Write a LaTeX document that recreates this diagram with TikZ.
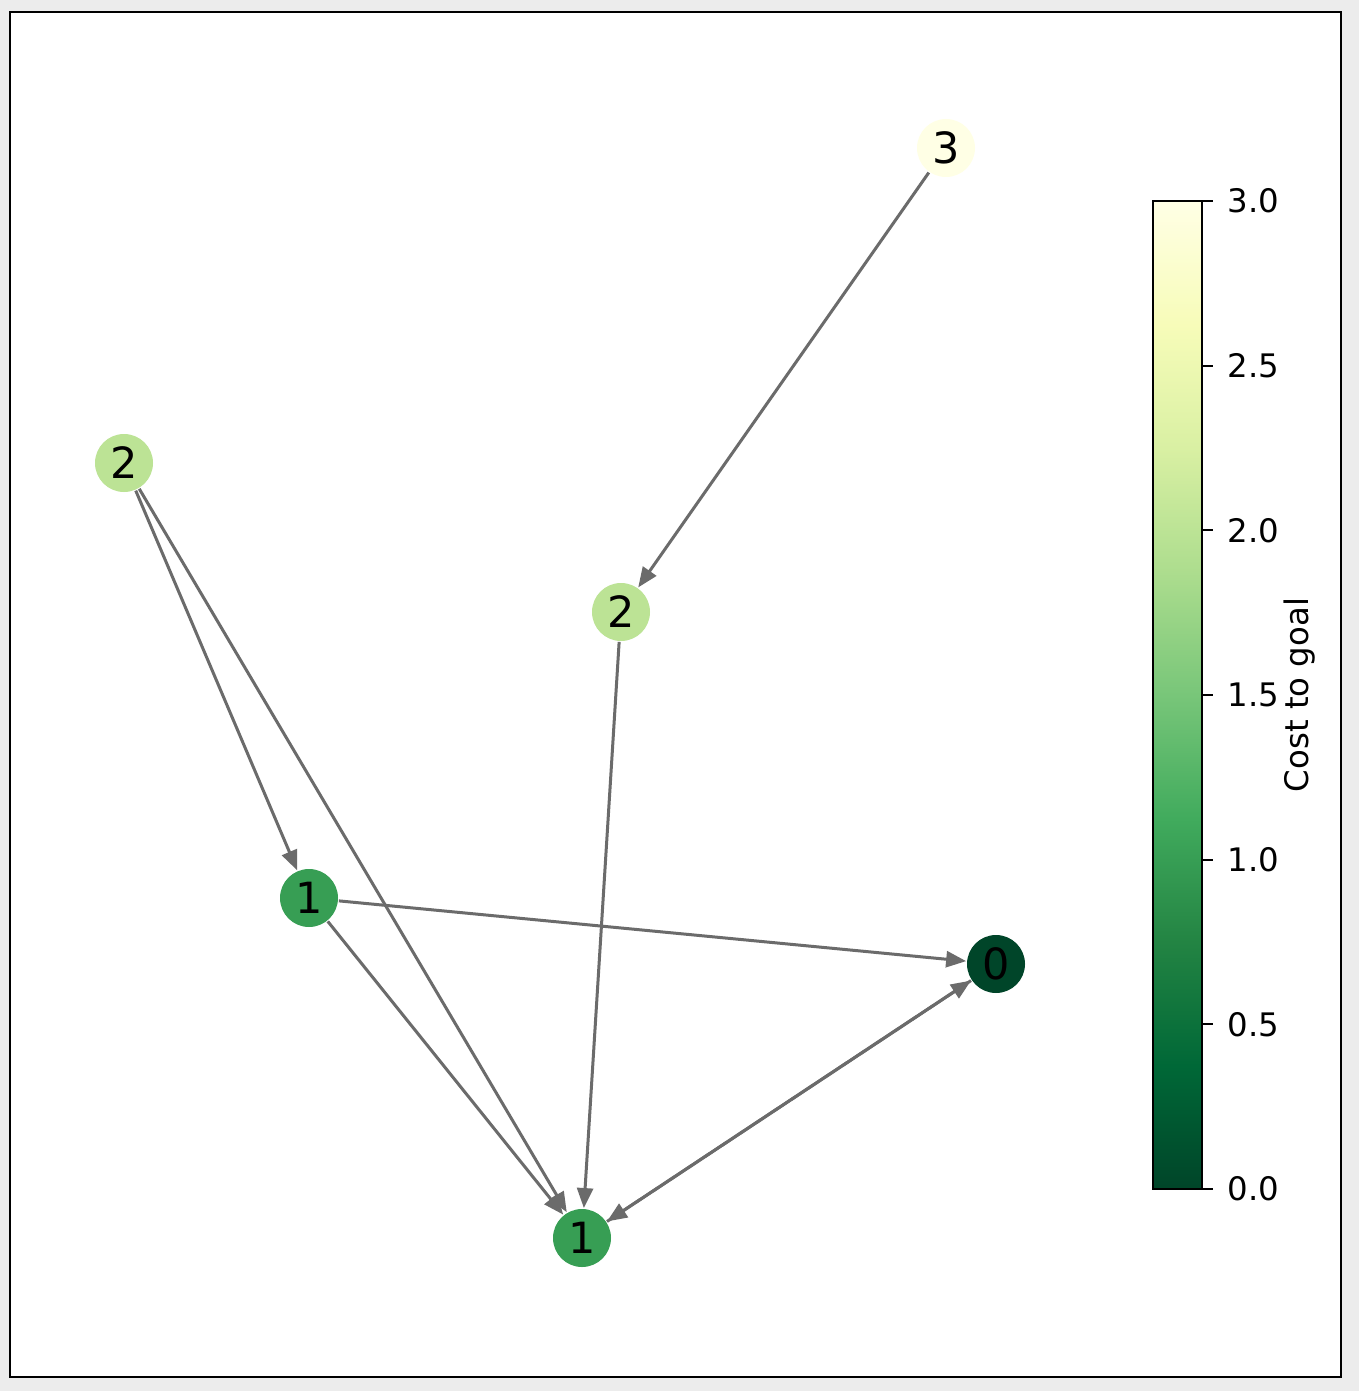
\documentclass[tikz,border=0pt]{standalone}
\usepackage{fontspec}
\setmainfont{DejaVu Sans}
\usetikzlibrary{arrows.meta}
\definecolor{bggray}{HTML}{ECECEC}
\definecolor{edgegray}{HTML}{6B6B6B}
\definecolor{cA}{HTML}{004529}
\definecolor{cB}{HTML}{006837}
\definecolor{cC}{HTML}{238443}
\definecolor{cD}{HTML}{41AB5D}
\definecolor{cE}{HTML}{78C679}
\definecolor{cF}{HTML}{ADDD8E}
\definecolor{cG}{HTML}{D9F0A3}
\definecolor{cH}{HTML}{F7FCB9}
\definecolor{cI}{HTML}{FFFFE5}
\definecolor{vzero}{HTML}{004529}
\definecolor{vone}{HTML}{379E54}
\definecolor{vtwo}{HTML}{BCE395}
\definecolor{vthree}{HTML}{FFFFE5}
\pgfdeclareverticalshading{ylgnr}{100bp}{color(0bp)=(cA); color(25bp)=(cA); color(31.25bp)=(cB); color(37.5bp)=(cC); color(43.75bp)=(cD); color(50bp)=(cE); color(56.25bp)=(cF); color(62.5bp)=(cG); color(68.75bp)=(cH); color(75bp)=(cI); color(100bp)=(cI)}
\tikzset{
  gnode/.style={circle, minimum size=29pt, inner sep=0pt, outer sep=0.5pt, font=\fontsize{21.5}{25}\selectfont},
  gedge/.style={draw=edgegray, line width=1.5pt, -{Triangle[length=10pt,width=8pt]}},
  ticklab/.style={anchor=west, font=\fontsize{16.2}{19}\selectfont, inner sep=0pt},
  tickmark/.style={line width=1pt}
}
\begin{document}
\begin{tikzpicture}[x=0.5pt,y=-0.5pt]
\fill[bggray] (0,0) rectangle (1359,1391);
\useasboundingbox (0,0) rectangle (1359,1391);
\draw[fill=white, line width=0.8pt] (10,12) rectangle (1341,1377);
% nodes
\node[gnode, fill=vthree] (n3) at (946,148) {3};
\node[gnode, fill=vtwo] (n2a) at (124,463) {2};
\node[gnode, fill=vtwo] (n2b) at (621,612) {2};
\node[gnode, fill=vone] (n1a) at (309,898) {1};
\node[gnode, fill=vzero] (n0) at (996,964) {0};
\node[gnode, fill=vone] (n1b) at (582,1238) {1};
% edges
\draw[gedge] (n3) -- (n2b);
\draw[gedge] (n2a) -- (n1a);
\draw[gedge] (n2a) -- (n1b);
\draw[gedge] (n2b) -- (n1b);
\draw[gedge] (n1a) -- (n0);
\draw[gedge] (n1a) -- (n1b);
\draw[gedge] (n0) -- (n1b);
\draw[gedge] (n1b) -- (n0);
% colorbar
\shade[shading=ylgnr] (1153,201) rectangle (1202,1189);
\draw[line width=1pt] (1153,201) rectangle (1202,1189);
\foreach \v/\y in {0.0/1189,0.5/1024.33,1.0/859.67,1.5/695,2.0/530.33,2.5/365.67,3.0/201}{
  \draw[tickmark] (1202,\y) -- (1213,\y);
  \node[ticklab] at (1227,\y) {\v};
}
\node[rotate=90, font=\fontsize{16.2}{19}\selectfont, inner sep=0pt] (cbl) at (1300,695) {Cost to goal};
\end{tikzpicture}
\end{document}
